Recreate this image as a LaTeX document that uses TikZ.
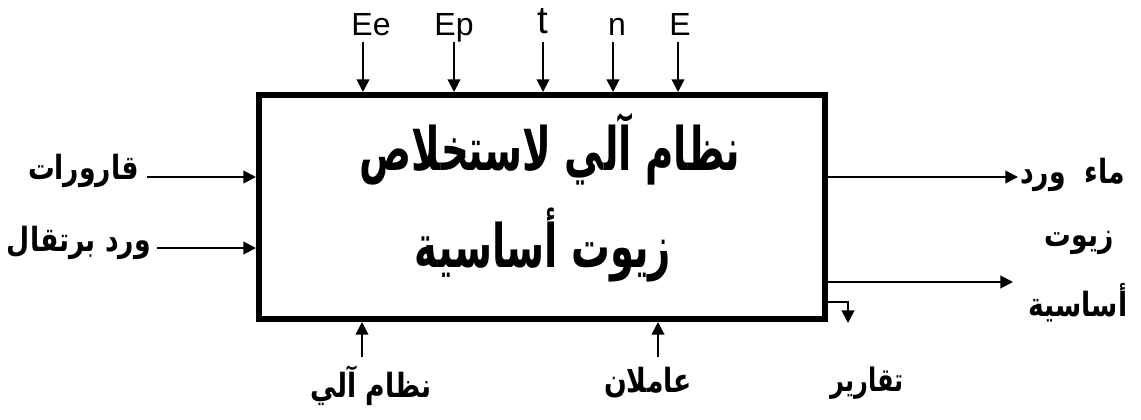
\documentclass[tikz,border=0pt]{standalone}
\usepackage{graphicx}
\usepackage{fontspec}
\setmainfont{Liberation Sans}
\newfontfamily\arabicfont[Script=Arabic]{DejaVu Sans}
\TeXXeTstate=1
\usetikzlibrary{arrows.meta}
\newcommand{\ar}[2][1.25]{\scalebox{1}[#1]{\arabicfont\bfseries\beginR #2\endR}}
\begin{document}
\begin{tikzpicture}[x=0.75pt,y=-0.75pt,
  arr/.style={line width=1.5pt,-{Triangle[length=9.5pt,width=9.5pt]}},
  sysbox/.style={draw,line width=4.5pt,minimum width=424.5pt,minimum height=168pt,inner sep=0pt,outer sep=0pt},
  lat/.style={font=\fontsize{24}{28}\selectfont,inner sep=0pt,anchor=base},
  lbl/.style={font=\fontsize{20}{24}\selectfont,inner sep=0pt},
  ttl/.style={font=\fontsize{29}{34}\selectfont,inner sep=0pt}]
\useasboundingbox (0,0) rectangle (1141,419);
\node[sysbox] (sys) at (542,207) {};
\node[ttl] (t1) at (550,149) {\ar[1.55]{نظام آلي لاستخلاص}};
\node[ttl] (t2) at (543,245) {\ar[1.55]{زيوت أساسية}};
% top inputs
\node[lat] (lEe) at (371,35) {Ee};
\node[lat] (lEp) at (454,35) {Ep};
\node[lat,font=\fontsize{29}{32}\selectfont] (lt) at (543,33) {t};
\node[lat] (ln) at (617,35) {n};
\node[lat] (lE) at (680,35) {E};
\foreach \n/\x in {Ee/363,Ep/454,t/543,n/613,E/678}{
  \coordinate (c\n) at (\x,42);
  \draw[arr,shorten >=2.25pt] (c\n) -- (c\n |- sys.north);
}
% left inputs
\node[lbl,anchor=east] (lq) at (139,171) {\ar{قارورات}};
\node[lbl,anchor=east] (lw) at (151,243) {\ar{ورد برتقال}};
\coordinate (cq) at (147,177);
\coordinate (cw) at (157,248);
\draw[arr,shorten >=2.25pt] (cq) -- (cq -| sys.west);
\draw[arr,shorten >=2.25pt] (cw) -- (cw -| sys.west);
% right outputs
\coordinate (cm) at (1018,177);
\coordinate (cz) at (1013,282);
\coordinate (cr) at (848,323);
\node[lbl,anchor=west] (lm) at (1020,175) {\ar{ماء\hspace{14pt}ورد}};
\node[lbl] (lz1) at (1079,243) {\ar{زيوت}};
\node[lbl] (lz2) at (1078,303) {\ar{أساسية}};
\node[lbl,font=\fontsize{18}{22}\selectfont] (lr) at (867,383) {\ar[1.35]{تقارير}};
\draw[arr] (cm -| sys.east) -- (cm);
\draw[arr] (cz -| sys.east) -- (cz);
\draw[arr] (sys.east |- 0,302) -| (cr);
% bottom inputs
\coordinate (cn) at (362,357);
\coordinate (ca) at (658,357);
\node[lbl] (ln2) at (371,386) {\ar{نظام آلي}};
\node[lbl] (la) at (648,383) {\ar{عاملان}};
\draw[arr,shorten >=2.25pt] (cn) -- (cn |- sys.south);
\draw[arr,shorten >=2.25pt] (ca) -- (ca |- sys.south);
\end{tikzpicture}
\end{document}
